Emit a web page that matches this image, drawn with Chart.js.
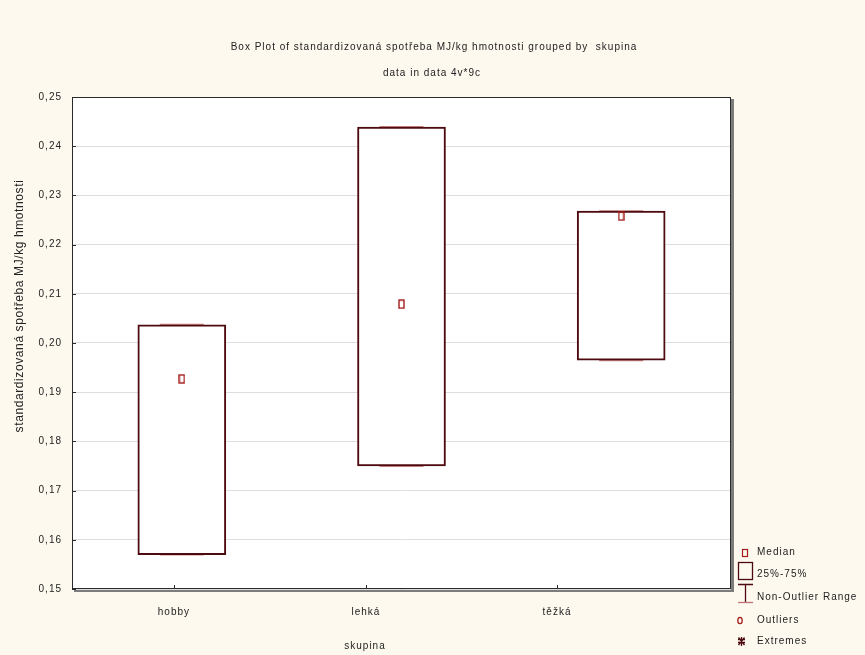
<!DOCTYPE html>
<html>
<head>
<meta charset="utf-8">
<script src="https://cdn.jsdelivr.net/npm/chart.js@4.4.1/dist/chart.umd.min.js"></script>
<style>
  html, body { margin: 0; padding: 0; background: #fdf9ef; }
  #wrap { width: 865px; height: 655px; }
</style>
</head>
<body>
<div id="wrap"><canvas id="box-plot"></canvas></div>
<script>
// hodnoty
const skupiny = ['hobby', 'lehká', 'těžká'];
const dolniKvartil = [0.1570, 0.1750, 0.1965];
const horniKvartil = [0.2037, 0.2439, 0.2268];
const medianHodnoty = [0.1927, 0.2079, 0.2258];
const minBezOdlehlych = [0.1570, 0.1750, 0.1965];
const maxBezOdlehlych = [0.2037, 0.2439, 0.2268];
// pozice popisku na ose x (Statistica je ma posunute proti krabicim)
const poziceZnacek = [0.464, 1.338, 2.208];

const FONT = '"Liberation Sans", Arial, sans-serif';
const MAROON = '#4d0a0f';

// znacka medianu - maly obdelnik
const medianMark = document.createElement('canvas');
medianMark.width = 7;
medianMark.height = 10;
const mctx = medianMark.getContext('2d');
mctx.strokeStyle = '#a31b1b';
mctx.lineWidth = 1.4;
mctx.strokeRect(1, 1, 5, 8);

const vzhled = {
  id: 'vzhled',
  beforeDraw(chart) {
    const { ctx, chartArea: a } = chart;
    ctx.save();
    ctx.fillStyle = '#fdf9ef';
    ctx.fillRect(0, 0, chart.width, chart.height);
    ctx.fillStyle = '#7c7c7c';
    ctx.fillRect(a.left + 2, a.top + 2, a.width + 1, a.height + 1);
    ctx.fillStyle = '#ffffff';
    ctx.fillRect(a.left, a.top, a.width, a.height);
    ctx.restore();
    ctx.letterSpacing = '1px';
  },
  afterDraw(chart) {
    const { ctx, chartArea: a } = chart;
    const sx = chart.scales.x, sy = chart.scales.y;
    ctx.save();
    // ramecek
    ctx.strokeStyle = '#2a2a2a';
    ctx.lineWidth = 1;
    ctx.strokeRect(a.left + 0.5, a.top + 0.5, a.width - 1, a.height - 1);
    // vnitrni znacky os
    ctx.beginPath();
    sy.ticks.forEach((t, i) => {
      const y = Math.round(sy.getPixelForTick(i)) + 0.5;
      ctx.moveTo(a.left, y); ctx.lineTo(a.left + 4, y);
    });
    sx.ticks.forEach((t, i) => {
      const x = Math.round(sx.getPixelForTick(i)) + 0.5;
      ctx.moveTo(x, a.bottom); ctx.lineTo(x, a.bottom - 4);
    });
    ctx.stroke();

    // titulky
    ctx.fillStyle = '#222';
    ctx.textBaseline = 'middle';
    ctx.textAlign = 'center';
    ctx.letterSpacing = '1px';
    ctx.font = '10px ' + FONT;
    ctx.fillText('Box Plot of standardizovaná spotřeba MJ/kg hmotnosti grouped by  skupina', 434, 47);
    ctx.fillText('data in data 4v*9c', 432, 73);
    ctx.fillText('skupina', 365, 646);

    ctx.save();
    ctx.letterSpacing = '0.6px';
    ctx.font = '12px ' + FONT;
    ctx.translate(20, 306);
    ctx.rotate(-Math.PI / 2);
    ctx.fillText('standardizovaná spotřeba MJ/kg hmotnosti', 0, 0);
    ctx.restore();

    // legenda
    ctx.textAlign = 'left';
    ctx.letterSpacing = '1px';
    ctx.font = '10px ' + FONT;
    [['Median', 552], ['25%-75%', 574], ['Non-Outlier Range', 597], ['Outliers', 620], ['Extremes', 641]]
      .forEach(([t, y]) => ctx.fillText(t, 757, y));

    ctx.strokeStyle = '#a31b1b';
    ctx.lineWidth = 1.2;
    ctx.strokeRect(742.5, 549.5, 5, 7);

    ctx.strokeStyle = MAROON;
    ctx.lineWidth = 1.3;
    ctx.strokeRect(738.5, 562.5, 14, 17);

    ctx.beginPath();
    ctx.moveTo(738, 584.5); ctx.lineTo(753, 584.5);
    ctx.moveTo(745.5, 584.5); ctx.lineTo(745.5, 602);
    ctx.stroke();
    ctx.strokeStyle = '#c07474';
    ctx.beginPath();
    ctx.moveTo(738, 602.5); ctx.lineTo(753, 602.5);
    ctx.stroke();

    ctx.strokeStyle = '#a31b1b';
    ctx.beginPath();
    ctx.ellipse(740, 620.5, 2.2, 3.2, 0, 0, Math.PI * 2);
    ctx.stroke();

    ctx.strokeStyle = MAROON;
    ctx.beginPath();
    ctx.moveTo(741.5, 637); ctx.lineTo(741.5, 646);
    ctx.moveTo(738, 639.5); ctx.lineTo(745, 639.5);
    ctx.moveTo(738, 642.5); ctx.lineTo(745, 642.5);
    ctx.moveTo(738.5, 637.5); ctx.lineTo(744.5, 645);
    ctx.moveTo(744.5, 637.5); ctx.lineTo(738.5, 645);
    ctx.stroke();
    ctx.restore();
  }
};

const ctx = document.getElementById('box-plot');
const chart = new Chart(ctx, {
  type: 'bar',
  data: {
    datasets: [
      {
        type: 'scatter',
        label: 'Median',
        data: skupiny.map((s, i) => ({ x: i + 0.5, y: medianHodnoty[i] })),
        pointStyle: medianMark,
        order: 0
      },
      {
        type: 'bar',
        label: '25%-75%',
        data: skupiny.map((s, i) => ({ x: i + 0.5, y: [dolniKvartil[i], horniKvartil[i]] })),
        backgroundColor: '#ffffff',
        borderColor: MAROON,
        borderWidth: 2,
        borderSkipped: false,
        barThickness: 88,
        order: 1
      },
      {
        type: 'scatter',
        label: 'Non-Outlier Range',
        data: skupiny.flatMap((s, i) => [
          { x: i + 0.5, y: minBezOdlehlych[i] },
          { x: i + 0.5, y: maxBezOdlehlych[i] }
        ]),
        pointStyle: 'line',
        radius: 22,
        borderColor: '#c98585',
        borderWidth: 2,
        order: 2
      }
    ]
  },
  options: {
    responsive: true,
    maintainAspectRatio: false,
    animation: false,
    layout: { padding: { top: 97, right: 134, bottom: 0, left: 0 } },
    plugins: {
      legend: { display: false },
      tooltip: { enabled: false }
    },
    scales: {
      x: {
        type: 'linear',
        min: 0,
        max: 3,
        offset: false,
        grid: { display: false, drawTicks: false, offset: false },
        border: { display: false },
        afterBuildTicks: s => { s.ticks = poziceZnacek.map(v => ({ value: v })); },
        afterFit: s => { s.height = 66; },
        ticks: {
          autoSkip: false,
          maxRotation: 0,
          padding: 17,
          color: '#222',
          font: { family: FONT, size: 10 },
          callback: (v, i) => skupiny[i]
        }
      },
      y: {
        min: 0.15,
        max: 0.25,
        grid: { color: '#dedede', drawTicks: false },
        border: { display: false },
        afterFit: s => { s.width = 72; },
        ticks: {
          stepSize: 0.01,
          padding: 10,
          color: '#222',
          font: { family: FONT, size: 10 },
          callback: v => v.toFixed(2).replace('.', ',')
        }
      }
    }
  },
  plugins: [vzhled]
});
</script>
</body>
</html>
